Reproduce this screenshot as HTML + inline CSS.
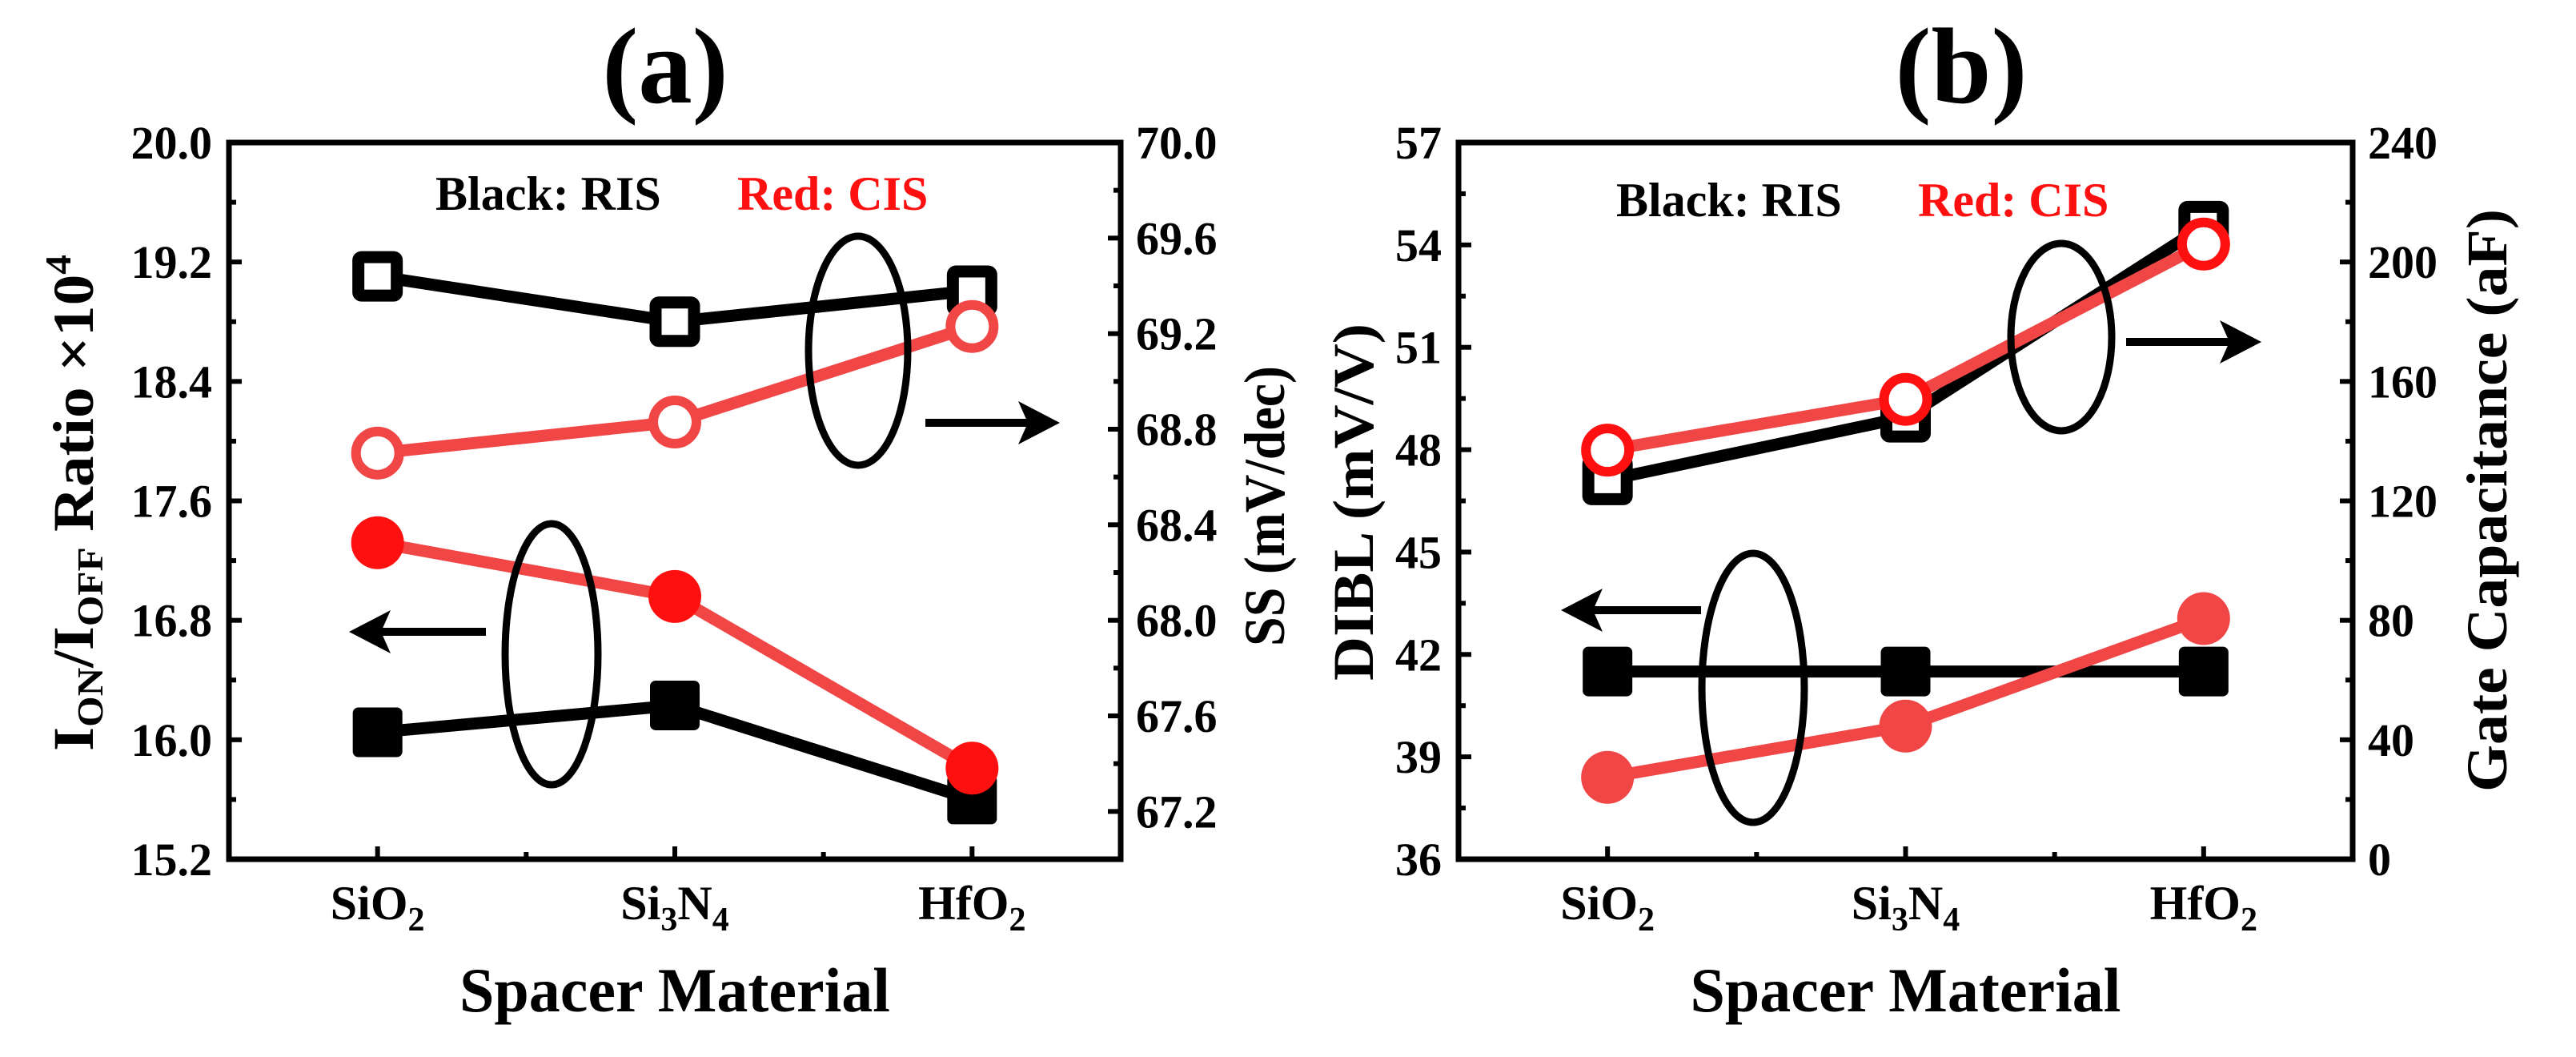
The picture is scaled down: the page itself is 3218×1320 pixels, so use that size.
<!DOCTYPE html>
<html><head><meta charset="utf-8"><style>
html,body{margin:0;padding:0;background:#fff}
svg{display:block}
text{font-family:"Liberation Serif",serif;font-weight:bold}
</style></head><body>
<svg id="fig" width="3218" height="1320" viewBox="0 0 3218 1320" xmlns="http://www.w3.org/2000/svg">
<g id="pa"></g>
<g id="pb"></g>
</svg>
<script>
const categories = ["SiO2", "Si3N4", "HfO2"];
// Panel (a)
const aRatioRIS = [16.05, 16.23, 15.60];
const aRatioCIS = [17.32, 16.96, 15.81];
const aSSRIS = [69.44, 69.25, 69.38];
const aSSCIS = [68.70, 68.83, 69.23];
const aLeftTicks = [15.2, 16.0, 16.8, 17.6, 18.4, 19.2, 20.0];
const aRightTicks = [67.2, 67.6, 68.0, 68.4, 68.8, 69.2, 69.6, 70.0];
// Panel (b)
const bDIBLRIS = [41.5, 41.5, 41.5];
const bDIBLCIS = [38.4, 39.9, 43.05];
const bCapRIS = [127, 148, 212];
const bCapCIS = [137, 154, 206];
const bLeftTicks = [36, 39, 42, 45, 48, 51, 54, 57];
const bRightTicks = [0, 40, 80, 120, 160, 200, 240];

const NS = "http://www.w3.org/2000/svg";
function mk(parent, tag, attrs, txt){
  const e = document.createElementNS(NS, tag);
  for (const k in attrs) e.setAttribute(k, attrs[k]);
  if (txt !== undefined) e.textContent = txt;
  parent.appendChild(e);
  return e;
}
const RED_LINE = "#f04646", RED = "#ff1010";

function catLabel(g, x, y, name){
  const t = mk(g, "text", {x:x, y:y, "font-size":60, "text-anchor":"middle"});
  
  
  const parts = name.match(/[A-Za-z]+|\d+/g);
  parts.forEach(p=>{
    const ts = mk(t, "tspan", {}, p);
    if (/^\d+$/.test(p)) { ts.setAttribute("font-size", 42); ts.setAttribute("dy", 14); }
    else if (t.childNodes.length > 1) { ts.setAttribute("dy", -14); }
  });
}

function panel(g, o){
  const L=o.L, R=o.R, T=178, B=1073;
  const xs = i => L + (i + 0.5) * (R - L) / 3;
  const yl = v => B - (v - o.lmin) / (o.lmax - o.lmin) * (B - T);
  const yr = v => B - (v - o.rmin) / (o.rmax - o.rmin) * (B - T);

  const ti = mk(g, "text", {x:o.titleX, y:128, "font-size":135, "text-anchor":"middle"}, o.title);
  
  

  const fr = mk(g, "rect", {x:L, y:T, width:R-L, height:B-T, fill:"none", stroke:"#000", "stroke-width":7});
  
  

  const lstep = tickStep(o.lticks);
  for (let v = o.lmin; v <= o.lmax + 1e-9; v += lstep/2) {
    const major = o.lticks.some(t => Math.abs(t - v) < 1e-6);
    const tk = mk(g, "line", {x1:L, x2:L + (major?16:9), y1:yl(v), y2:yl(v), stroke:"#000", "stroke-width":6});
    
    
  }
  o.lticks.forEach(v=>{
    const t = mk(g, "text", {x:L-21, y:yl(v)+20, "font-size":58, "text-anchor":"end"}, o.lfmt(v));
    
    
  });
  const rstep = tickStep(o.rticks);
  for (let v = o.rmin; v <= o.rmax + 1e-9; v += rstep/2) {
    const major = o.rticks.some(t => Math.abs(t - v) < 1e-6);
    const tk = mk(g, "line", {x1:R, x2:R - (major?16:9), y1:yr(v), y2:yr(v), stroke:"#000", "stroke-width":6});
    
    
  }
  o.rticks.forEach(v=>{
    const t = mk(g, "text", {x:R+19, y:yr(v)+20, "font-size":58, "text-anchor":"start"}, o.rfmt(v));
    
    
  });
  for (let i = 0; i < 5; i++) {
    const x = L + (i/2 + 0.5) * (R - L) / 3;
    const major = i % 2 === 0;
    const tk = mk(g, "line", {x1:x, x2:x, y1:B, y2:B-(major?16:9), stroke:"#000", "stroke-width":6});
    
    
  }
  categories.forEach((c,i)=>catLabel(g, xs(i), 1148, c));

  const xt = mk(g, "text", {x:(L+R)/2, y:1263, "font-size":78, "text-anchor":"middle"}, "Spacer Material");
  
  

  const yt = mk(g, "text", {transform:`translate(${o.ltX},${o.ltY}) rotate(-90)`, "font-size":72, "text-anchor":"middle", textLength:o.ltLen, lengthAdjust:"spacingAndGlyphs"});
  
  
  o.ltParts(yt);
  const rt = mk(g, "text", {transform:`translate(${o.rtX},${o.rtY}) rotate(-90)`, "font-size":72, "text-anchor":"middle", textLength:o.rtLen, lengthAdjust:"spacingAndGlyphs"}, o.rtitle);
  
  

  const lb = mk(g, "text", {x:o.legX1, y:o.legY, "font-size":60, fill:"#000"}, "Black: RIS");
  
  
  const lr = mk(g, "text", {x:o.legX2, y:o.legY, "font-size":60, fill:RED}, "Red: CIS");
  
  

  function series(vals, yf, color, lineColor, marker, name){
    const pts = vals.map((v,i)=>xs(i)+","+yf(v)).join(" ");
    const pl = mk(g, "polyline", {points:pts, fill:"none", stroke:lineColor, "stroke-width":15, "stroke-linejoin":"round"});
    
    
    vals.forEach((v,i)=>{
      let m;
      const x = xs(i), y = yf(v);
      if (marker === "sqf") m = mk(g, "rect", {x:x-31, y:y-31, width:62, height:62, rx:7, fill:"#000"});
      if (marker === "sqo") m = mk(g, "rect", {x:x-24, y:y-24, width:48, height:48, rx:4, fill:"#fff", stroke:"#000", "stroke-width":15});
      if (marker === "cf") m = mk(g, "circle", {cx:x, cy:y, r:33, fill:color});
      if (marker === "co") m = mk(g, "circle", {cx:x, cy:y, r:27, fill:"#fff", stroke:color, "stroke-width":12});
      
      
    });
  }
  o.series.forEach(s => series(s.vals, s.axis==="l"?yl:yr, s.color, s.line, s.marker, s.name));

  o.ell.forEach(e=>{
    const el = mk(g, "ellipse", {cx:e[0], cy:e[1], rx:e[2], ry:e[3], fill:"none", stroke:"#000", "stroke-width":9});
    
    
  });
  o.arr.forEach(a=>{
    const dir = Math.sign(a[2]-a[0]);
    const ln = mk(g, "line", {x1:a[0], y1:a[1], x2:a[2]-dir*20, y2:a[1], stroke:"#000", "stroke-width":10});
    
    
    const hd = mk(g, "path", {d:`M${a[2]-dir*52},${a[1]-27} L${a[2]},${a[1]} L${a[2]-dir*52},${a[1]+27} L${a[2]-dir*40},${a[1]} Z`, fill:"#000"});
    
    
  });
}
function tickStep(t){ return t[1]-t[0]; }

panel(document.getElementById("pa"), {
  L:286, R:1400, lmin:15.2, lmax:20.0, rmin:67.0, rmax:70.0,
  lticks:aLeftTicks, rticks:aRightTicks, lfmt:v=>v.toFixed(1), rfmt:v=>v.toFixed(1),
  title:"(a)", titleX:831,
  ltX:116, ltY:628, ltLen:620,
  ltParts:(t)=>{
    mk(t,"tspan",{},"I");
    mk(t,"tspan",{"font-size":46,dy:12},"ON");
    mk(t,"tspan",{dy:-12},"/I");
    mk(t,"tspan",{"font-size":46,dy:12},"OFF");
    mk(t,"tspan",{dy:-12}," Ratio \u00d710");
    mk(t,"tspan",{"font-size":46,dy:-28},"4");
  },
  rtitle:"SS (mV/dec)", rtX:1604, rtY:632, rtLen:350,
  legX1:544, legX2:921, legY:262,
  series:[
    {vals:aRatioRIS, axis:"l", color:"#000", line:"#000", marker:"sqf", name:"ratio-ris"},
    {vals:aRatioCIS, axis:"l", color:RED, line:RED_LINE, marker:"cf", name:"ratio-cis"},
    {vals:aSSRIS, axis:"r", color:"#000", line:"#000", marker:"sqo", name:"ss-ris"},
    {vals:aSSCIS, axis:"r", color:RED_LINE, line:RED_LINE, marker:"co", name:"ss-cis"}
  ],
  ell:[[1072,438,62,143],[689,817,58,163]],
  arr:[[607,789,436,789],[1156,528,1324,528]]
});

panel(document.getElementById("pb"), {
  L:1822, R:2939, lmin:36, lmax:57, rmin:0, rmax:240,
  lticks:bLeftTicks, rticks:bRightTicks, lfmt:v=>String(v), rfmt:v=>String(v),
  title:"(b)", titleX:2450,
  ltX:1715, ltY:627, ltLen:446,
  ltParts:(t)=>{ mk(t,"tspan",{},"DIBL (mV/V)"); },
  rtitle:"Gate Capacitance (aF)", rtX:3131, rtY:625, rtLen:728,
  legX1:2019, legX2:2396, legY:270,
  series:[
    {vals:bDIBLRIS, axis:"l", color:"#000", line:"#000", marker:"sqf", name:"dibl-ris"},
    {vals:bDIBLCIS, axis:"l", color:RED_LINE, line:RED_LINE, marker:"cf", name:"dibl-cis"},
    {vals:bCapRIS, axis:"r", color:"#000", line:"#000", marker:"sqo", name:"cap-ris"},
    {vals:bCapCIS, axis:"r", color:RED, line:RED_LINE, marker:"co", name:"cap-cis"}
  ],
  ell:[[2575,421,63,117],[2190,859,64,168]],
  arr:[[2125,762,1950,762],[2656,427,2825,427]]
});
</script>
</body></html>
